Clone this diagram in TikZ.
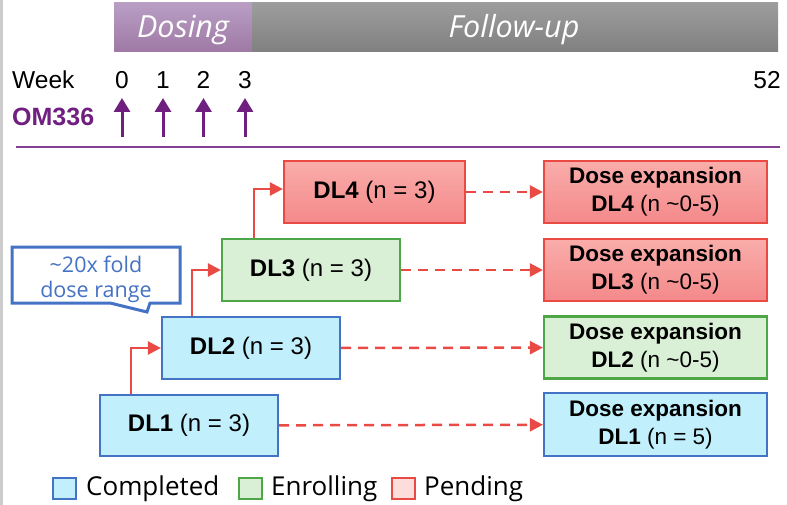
\documentclass[tikz,border=0pt]{standalone}
\usepackage{fontspec}
\setmainfont{Liberation Sans}
\newfontfamily\os{Open Sans}
\usetikzlibrary{arrows.meta}
\definecolor{pur}{HTML}{6E1F80}
\definecolor{redline}{HTML}{EA4A44}
\definecolor{redtop}{HTML}{F9ADAA}
\definecolor{redbot}{HTML}{F4898A}
\definecolor{grnfill}{HTML}{D9EFD6}
\definecolor{grnline}{HTML}{4EA646}
\definecolor{blufill}{HTML}{C1EFFC}
\definecolor{bluline}{HTML}{4472C4}
\definecolor{pinkfill}{HTML}{FDDCDC}
\definecolor{dostop}{RGB}{185,158,196}
\definecolor{dosbot}{RGB}{158,121,164}
\definecolor{foltop}{RGB}{157,157,157}
\definecolor{folbot}{RGB}{128,128,128}
\tikzset{
  box/.style={draw, line width=2.2pt, minimum height=62pt, inner sep=0pt, align=center},
  dlbox/.style={box, minimum width=178pt, font=\fontsize{24}{28}\selectfont},
  expbox/.style={box, minimum width=223pt, font=\fontsize{22.5}{28}\selectfont},
  pend/.style={draw=redline, top color=redtop, bottom color=redbot},
  enrol/.style={draw=grnline, fill=grnfill},
  compl/.style={draw=bluline, fill=blufill},
  link/.style={redline, line width=2.5pt, -{Triangle[length=13pt,width=13pt]}},
  dlink/.style={link, dash pattern=on 10pt off 7pt},
  dosearrow/.style={pur, line width=3pt, -{Triangle[length=14pt,width=16pt]}},
  legsq/.style={draw, line width=2.5pt, minimum width=23pt, minimum height=21pt, inner sep=0pt},
  legtxt/.style={anchor=west, inner sep=0pt, font=\os\fontsize{26}{28}\selectfont},
  wk/.style={inner sep=0pt, font=\fontsize{24.5}{26}\selectfont},
  bar/.style={inner sep=0pt, minimum height=49pt},
  bartxt/.style={inner sep=0pt, text=white, font=\os\itshape\fontsize{30.5}{32}\selectfont}
}
\begin{document}
\begin{tikzpicture}[x=1pt,y=-1pt]
\useasboundingbox (0,0) rectangle (787,505);
% left border line
\draw[color=gray!40, line width=3pt] (1.5,0) -- (1.5,505);
% top bars
\node[bar, minimum width=138pt, top color=dostop, bottom color=dosbot] (dosing) at (183,27.5) {};
\node[bar, minimum width=526pt, top color=foltop, bottom color=folbot] (follow) at (515,27.5) {};
\node[bartxt] (dosingt) at (183,30) {Dosing};
\node[bartxt] (followt) at (514,30) {Follow-up};
% week row
\node[wk, anchor=west] (week) at (12,80) {Week};
\node[wk] (w0) at (122,80) {0};
\node[wk] (w1) at (163,80) {1};
\node[wk] (w2) at (203.5,80) {2};
\node[wk] (w3) at (245,80) {3};
\node[wk] (w52) at (767,80) {52};
\node[inner sep=0pt, anchor=west, text=pur, font=\bfseries\fontsize{25}{26}\selectfont] (om) at (12,117) {OM336};
\foreach \x/\n in {122/a0,163/a1,203.5/a2,245/a3}{
  \coordinate (\n s) at (\x,137);
  \coordinate (\n e) at (\x,98);
  \draw[dosearrow] (\n s) -- (\n e);
}
\coordinate (hl1) at (16,147);
\coordinate (hl2) at (780,147);
\draw[pur!85, line width=2pt] (hl1) -- (hl2);
% DL boxes
\node[dlbox, pend, minimum width=181pt] (dl4) at (374.5,192) {\textbf{DL4} (n = 3)};
\node[dlbox, enrol] (dl3) at (311,270) {\textbf{DL3} (n = 3)};
\node[dlbox, compl] (dl2) at (251,348) {\textbf{DL2} (n = 3)};
\node[dlbox, compl, minimum height=61pt] (dl1) at (189,425.5) {\textbf{DL1} (n = 3)};
% expansion boxes
\node[expbox, pend] (e4) at (655.5,192) {\textbf{Dose expansion}\\\textbf{DL4} (n \textasciitilde0-5)};
\node[expbox, pend] (e3) at (655.5,270) {\textbf{Dose expansion}\\\textbf{DL3} (n \textasciitilde0-5)};
\node[expbox, enrol] (e2) at (655.5,347.5) {\textbf{Dose expansion}\\\textbf{DL2} (n \textasciitilde0-5)};
\node[expbox, compl, minimum height=63pt] (e1) at (655.5,424.5) {\textbf{Dose expansion}\\\textbf{DL1} (n = 5)};
% connectors
\draw[link] ([xshift=32pt]dl1.north west) |- (dl2.west);
\draw[link] ([xshift=31pt]dl2.north west) |- (dl3.west);
\draw[link] ([xshift=33pt]dl3.north west) |- ([yshift=3pt]dl4.west);
\draw[dlink] (dl4) -- (e4);
\draw[dlink] (dl3) -- (e3);
\draw[dlink] (dl2) -- (e2);
\draw[dlink] (dl1) -- (e1);
% callout
\draw[bluline, line width=3pt, fill=white, line join=miter] (12,247) -- (180,247) -- (180,303) -- (150,303) -- (147,312) -- (110,303) -- (12,303) -- cycle;
\node[text=bluline, align=center, inner sep=0pt, font=\os\fontsize{21.5}{25}\selectfont] (callout) at (96,279) {\textasciitilde20x fold\\dose range};
% legend
\node[legsq, compl] (lg1) at (64.5,488.5) {};
\node[legtxt] (lt1) at (86,489) {Completed};
\node[legsq, enrol] (lg2) at (250.5,488.5) {};
\node[legtxt] (lt2) at (271,489) {Enrolling};
\node[legsq, draw=redline, fill=pinkfill] (lg3) at (403.5,488.5) {};
\node[legtxt] (lt3) at (424,489) {Pending};
\end{tikzpicture}
\end{document}
